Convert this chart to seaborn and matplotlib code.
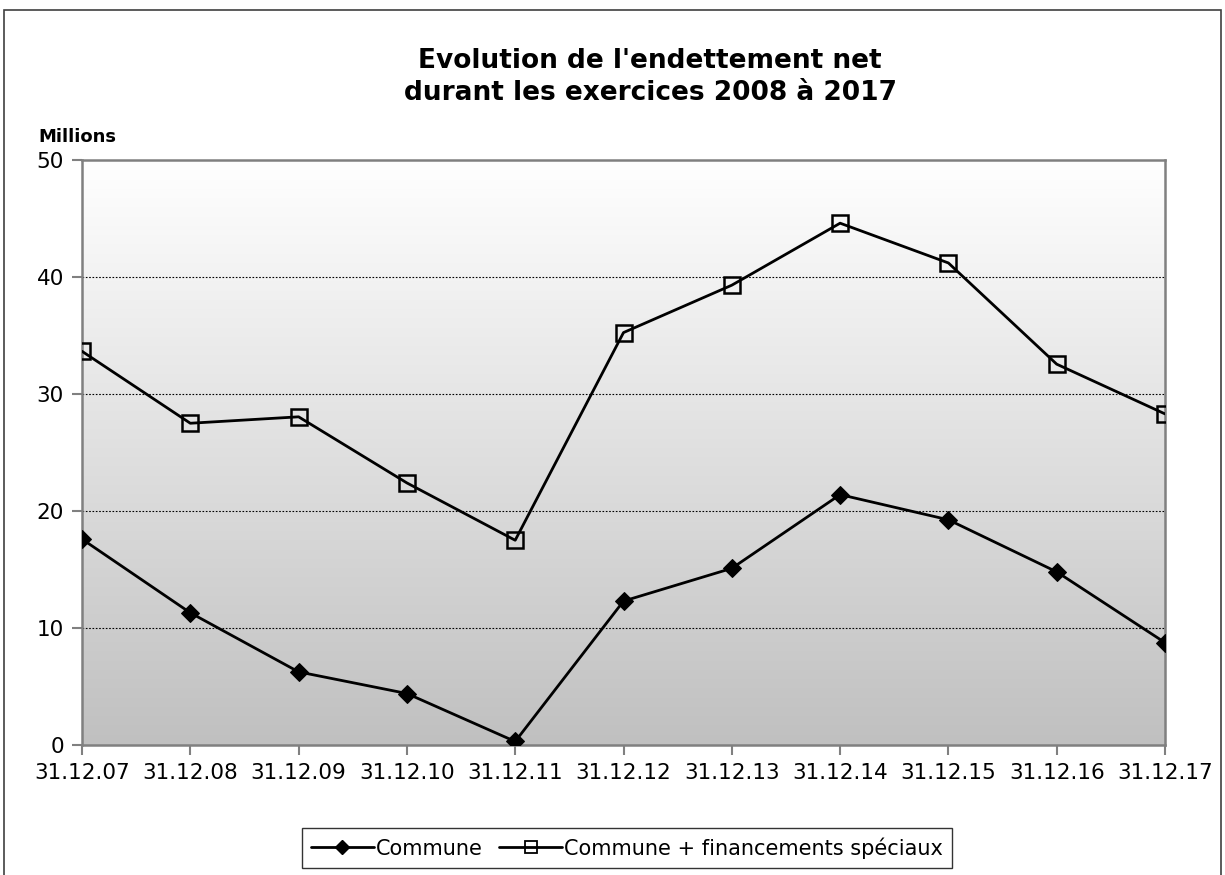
import numpy as np
import pandas as pd
import matplotlib
matplotlib.use("Agg")
import matplotlib.pyplot as plt
import seaborn as sns
from matplotlib.patches import Rectangle
from matplotlib.lines import Line2D
from matplotlib.colors import LinearSegmentedColormap

dates = ["31.12.07", "31.12.08", "31.12.09", "31.12.10", "31.12.11", "31.12.12",
         "31.12.13", "31.12.14", "31.12.15", "31.12.16", "31.12.17"]
commune = [17.6, 11.3, 6.25, 4.4, 0.3, 12.3, 15.1, 21.4, 19.25, 14.8, 8.75]
commune_fs = [33.65, 27.5, 28.05, 22.4, 17.5, 35.25, 39.3, 44.6, 41.2, 32.55, 28.3]
series_names = ["Commune", "Commune + financements spéciaux"]
y_ticks = [0, 10, 20, 30, 40, 50]

sns.set_theme(style="white")
plt.rcParams['font.family'] = ['DejaVu Sans']
plt.rcParams['text.color'] = 'black'

fig = plt.figure(figsize=(12.25, 8.75), dpi=100)
ax = fig.add_axes([82/1225, 1-745/875, (1165-82)/1225, (745-160)/875])

# gradient background
grad = np.linspace(0, 1, 256).reshape(-1, 1)
cmap = LinearSegmentedColormap.from_list("g", ["#ffffff", "#c0c0c0"])
ax.imshow(grad, extent=[0, 1, 0, 1], transform=ax.transAxes, aspect="auto",
          cmap=cmap, zorder=0, interpolation="bilinear")

df = pd.DataFrame({"value": commune + commune_fs,
                   "serie": [series_names[0]] * len(dates) + [series_names[1]] * len(dates)})
df["x"] = list(range(len(dates))) * 2

sns.lineplot(data=df[df.serie == series_names[0]], x="x", y="value", ax=ax,
             color="black", lw=2, marker="D", markersize=9, markeredgecolor="black",
             markerfacecolor="black", zorder=3, legend=False)
sns.lineplot(data=df[df.serie == series_names[1]], x="x", y="value", ax=ax,
             color="black", lw=2, marker="s", markersize=12, markeredgecolor="black",
             markeredgewidth=1.8, markerfacecolor="none", zorder=3, legend=False)

ax.set_xlim(0, len(dates) - 1)
ax.set_ylim(0, 50)
ax.set_yticks(y_ticks)
ax.set_yticklabels([str(t) for t in y_ticks], fontsize=15.5)
ax.set_xticks(range(len(dates)))
ax.set_xticklabels(dates, fontsize=15.5)
ax.set_xlabel("")
ax.set_ylabel("")
for t in [10, 20, 30, 40]:
    ax.axhline(t, color="black", lw=0.8, ls=(0, (1.5, 1.5)), zorder=1)
for s in ax.spines.values():
    s.set_color("#808080")
    s.set_linewidth(1.8)
    s.set_visible(True)
ax.tick_params(axis="both", direction="out", length=7, width=1.5, color="#808080",
               labelcolor="black", left=True, bottom=True, pad=6)

fig.text(650/1225, 1-77/875, "Evolution de l'endettement net\ndurant les exercices 2008 à 2017",
         ha="center", va="center", fontsize=19, fontweight="bold", linespacing=1.3,
         color="black")
fig.text(38/1225, 1-137/875, "Millions", ha="left", va="center", fontsize=13,
         fontweight="bold", color="black")

handles = [Line2D([], [], color="black", lw=2, marker="D", markersize=7, markerfacecolor="black"),
           Line2D([], [], color="black", lw=2, marker="s", markersize=9,
                  markerfacecolor="none", markeredgewidth=1.3)]
leg = fig.legend(handles, series_names, loc="center", bbox_to_anchor=(627/1225, 1-848/875),
                 ncol=2, fontsize=15, frameon=True, fancybox=False, edgecolor="black",
                 handlelength=3.0, handletextpad=0.1, columnspacing=0.8, borderpad=0.45,
                 borderaxespad=0, labelcolor="black")
leg.get_frame().set_linewidth(1.0)

fig.patches.append(Rectangle((4/1225, -0.05), 1217/1225, 1.05 - 10/875, transform=fig.transFigure,
                             fill=False, edgecolor="#404040", lw=1.2))

fig.savefig("out.png", dpi=100, facecolor="white")
